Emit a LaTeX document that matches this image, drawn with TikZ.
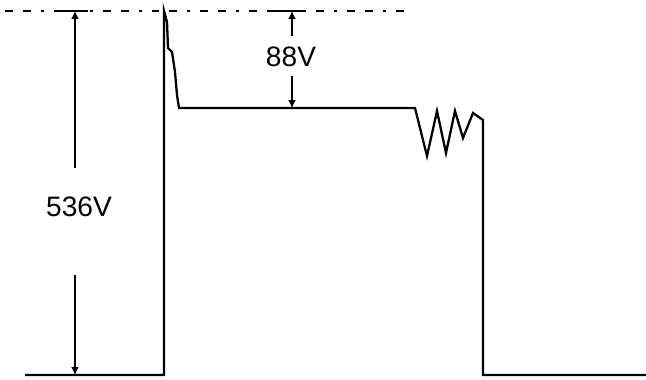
\documentclass[tikz,border=0pt]{standalone}
\usepackage{fontspec}
\setmainfont{Liberation Sans}
\usetikzlibrary{arrows.meta}

\tikzset{
  wave/.style={line width=1.3pt, line join=miter},
  refline/.style={line width=1.4pt, dash pattern=on 4.5pt off 5.7pt on 4.5pt off 5.7pt on 1.7pt off 5.7pt},
  tick/.style={line width=1.4pt},
  dimline/.style={line width=1pt, -{Latex[length=4.5pt,width=4.5pt]}},
  dimlabel/.style={font=\fontsize{16}{18}\selectfont, inner sep=1pt}
}

\begin{document}
\begin{tikzpicture}[x=0.02cm, y=-0.02cm]

    \useasboundingbox (0,0) rectangle (646,379);

    % Reference level
    \coordinate (refL) at (5,11);
    \coordinate (refR) at (410,11);
    \draw[refline] (refL) -- (refR);

    % Waveform
    \coordinate (start) at (25,375);
    \coordinate (riseB) at (164,375);
    \coordinate (riseT) at (164,11);
    \coordinate (flatL) at (179,108);
    \coordinate (flatR) at (415,108);
    \coordinate (fallT) at (483,120);
    \coordinate (fallB) at (483,375);
    \coordinate (end) at (646,375);

    \draw[wave] (start) -- (riseB) -- (riseT)
        -- (167,22) -- (168,48) -- (172,52) -- (175,72) -- (177,95) -- (flatL)
        -- (flatR)
        -- (427,156) -- (437,111) -- (446,153) -- (455,111) -- (463,138)
        -- (473,113) -- (fallT) -- (fallB) -- (end);

    % 536V
    \node[dimlabel] (v536) at (79,207) {536V};
    \coordinate (v536T) at (75,11);
    \coordinate (v536B) at (75,375);
    \coordinate (v536a) at (75,168);
    \coordinate (v536b) at (75,275);
    \draw[tick] (60,11) -- (88,11);
    \draw[dimline] (v536a) -- (v536T);
    \draw[dimline] (v536b) -- (v536B);

    % 88V
    \node[dimlabel] (v88) at (291,57) {88V};
    \coordinate (v88T) at (292,11);
    \coordinate (v88B) at (292,108);
    \coordinate (v88a) at (292,36);
    \coordinate (v88b) at (292,76);
    \draw[tick] (272,11) -- (302,11);
    \draw[dimline] (v88a) -- (v88T);
    \draw[dimline] (v88b) -- (v88B);

\end{tikzpicture}
\end{document}
